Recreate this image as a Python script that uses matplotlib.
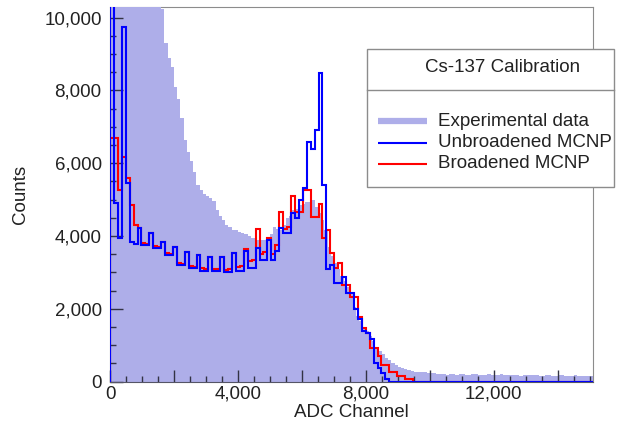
import numpy as np
import matplotlib.pyplot as plt
from matplotlib.ticker import MultipleLocator, FuncFormatter
from matplotlib.lines import Line2D
from matplotlib.patches import Rectangle

plt.rcParams['font.family'] = ['Liberation Sans', 'DejaVu Sans']
plt.rcParams['font.size'] = 13.5

# experimental spectrum, 100 channels per bin
exp_counts = [
    15800, 16200, 16500, 16300, 16000, 15600, 15100, 14600, 14100, 13600,
    13100, 12700, 12300, 11900, 11500, 10900, 10250, 9300, 8900, 8650,
    8100, 7750, 7250, 6650, 6300, 6050, 5750, 5400, 5250, 5150,
    5100, 5050, 4950, 4700, 4550, 4450, 4300, 4250, 4150, 4150,
    4100, 4080, 4050, 4010, 3950, 3930, 3900, 3880, 3900, 3980,
    4050, 4250, 4200, 4150, 4300, 4500, 4550, 4700, 4750, 4850,
    4890, 4920, 4920, 4980, 4800, 4620, 4430, 4150, 3700, 3450,
    3250, 3100, 2900, 2750, 2600, 2400, 2050, 1800, 1650, 1500,
    1400, 1250, 1100, 950, 850, 750, 650, 580, 500, 450,
    400, 370, 340, 310, 290, 270, 260, 250, 250, 240,
    230, 220, 210, 215, 200, 190, 205, 195, 185, 200,
    210, 190, 180, 195, 200, 185, 175, 190, 200, 180,
    170, 185, 195, 175, 165, 180, 190, 170, 160, 175,
    185, 165, 170, 180, 160, 155, 170, 175, 160, 150,
    165, 170, 155, 150, 160, 165, 150, 145, 155, 150, 140]

# MCNP tallies, 123 channels per bin
unbroadened = [
    14000, 4900, 3930, 9750, 5450, 3820, 3780, 4230, 3740, 3740,
    4070, 3660, 3660, 3820, 3470, 3470, 3690, 3190, 3190, 3550,
    3110, 3110, 3470, 3050, 3050, 3410, 3050, 3050, 3410, 3000,
    3000, 3520, 3050, 3050, 3600, 3130, 3130, 3660, 3330, 3330,
    3880, 3330, 3600, 4230, 4070, 4070, 4620, 4500, 4980, 5330,
    6580, 6400, 6900, 8470, 5390, 3100, 3190, 2700, 2700, 2860,
    2420, 2420, 2000, 1730, 1400, 1320, 1180, 500, 360, 220,
    80]

broadened = [
    6700, 6700, 5250, 6160, 5580, 4840, 4290, 4230, 3800, 3780,
    4070, 3720, 3700, 3830, 3530, 3500, 3700, 3260, 3230, 3560,
    3170, 3150, 3480, 3110, 3090, 3420, 3100, 3090, 3430, 3060,
    3080, 3530, 3150, 3180, 3650, 3300, 3350, 4200, 3500, 3550,
    3930, 3500, 3750, 4650, 4200, 4250, 5110, 4650, 4650, 5250,
    5250, 4510, 4510, 4890, 3930, 4150, 3520, 3130, 3270, 2640,
    2640, 2310, 2310, 1760, 1460, 1320, 910, 910, 710, 440,
    440, 250, 250, 160, 160, 80, 80]

legend_labels = ['Experimental data', 'Unbroadened MCNP', 'Broadened MCNP']
legend_title = 'Cs-137 Calibration'

exp_width = 100
mcnp_width = 123
x_max = 15100
y_max = 10300

W, H = 619, 433
fx = lambda px: px / W
fy = lambda py: 1 - py / H

fig = plt.figure(figsize=(W / 100, H / 100), dpi=100)
ax = fig.add_axes([fx(110), fy(381.5), (593 - 110) / W, (381.5 - 6.7) / H])

exp_edges = np.arange(len(exp_counts) + 1) * exp_width
ax.stairs(exp_counts, exp_edges, fill=True, color='#aeaee9', lw=0, zorder=1)

n_bins = int(np.ceil(x_max / mcnp_width)) + 2
mcnp_edges = np.arange(n_bins + 1) * mcnp_width
red = np.pad(np.array(broadened, float), (0, n_bins - len(broadened)))
blue = np.pad(np.array(unbroadened, float), (0, n_bins - len(unbroadened)))
ax.stairs(red, mcnp_edges, color='#ff0000', lw=1.5, zorder=3)
ax.stairs(blue, mcnp_edges, color='#0000ff', lw=1.5, zorder=3.1)

ax.set_xlim(0, x_max)
ax.set_ylim(0, y_max)

ax.xaxis.set_major_locator(MultipleLocator(2000))
ax.xaxis.set_minor_locator(MultipleLocator(500))
ax.yaxis.set_major_locator(MultipleLocator(2000))
ax.yaxis.set_minor_locator(MultipleLocator(500))
ax.xaxis.set_major_formatter(FuncFormatter(lambda v, p: f'{v:,.0f}' if v % 4000 == 0 else ''))
ax.yaxis.set_major_formatter(FuncFormatter(lambda v, p: f'{v:,.0f}'))

ax.tick_params(which='both', direction='in', color='#333344', labelcolor='#222222')
ax.tick_params(which='major', length=9, width=1)
ax.tick_params(which='minor', length=4.5, width=1)
ax.tick_params(axis='y', pad=6)
ax.tick_params(axis='x', pad=3)

for s in ['top', 'right']:
    ax.spines[s].set_color('#8c8c8c')
ax.spines['top'].set_zorder(0.5)
ax.spines['left'].set_color('#555566')
ax.spines['bottom'].set_color('#555566')

ax.set_ylabel('Counts', color='#222222')
ax.yaxis.set_label_coords((29 - 110) / 483, 0.5)
ax.set_xlabel('ADC Channel', color='#222222')
ax.xaxis.set_label_coords(0.5, (381.5 - 404) / 374.8)

# legend box with title row
fig.add_artist(Rectangle((fx(367), fy(187)), fx(614) - fx(367), fy(49) - fy(187),
                         transform=fig.transFigure, facecolor='white',
                         edgecolor='#8c8c8c', lw=1, zorder=5))
fig.add_artist(Line2D([fx(367), fx(614)], [fy(90), fy(90)], transform=fig.transFigure,
                      color='#8c8c8c', lw=1, zorder=6))
fig.text(fx(503), fy(67), legend_title, ha='center', va='center', color='#222222', zorder=6)

styles = [('#aeaee9', 4.5), ('#0000ff', 1.5), ('#ff0000', 1.5)]
for i, (lab, (c, w)) in enumerate(zip(legend_labels, styles)):
    yy = fy(121 + i * 21.5)
    fig.add_artist(Line2D([fx(378), fx(427)], [yy, yy], transform=fig.transFigure,
                          color=c, lw=w, zorder=6, solid_capstyle='butt'))
    fig.text(fx(438), yy, lab, ha='left', va='center', color='#222222', zorder=6)

fig.savefig('out.png', dpi=100)
